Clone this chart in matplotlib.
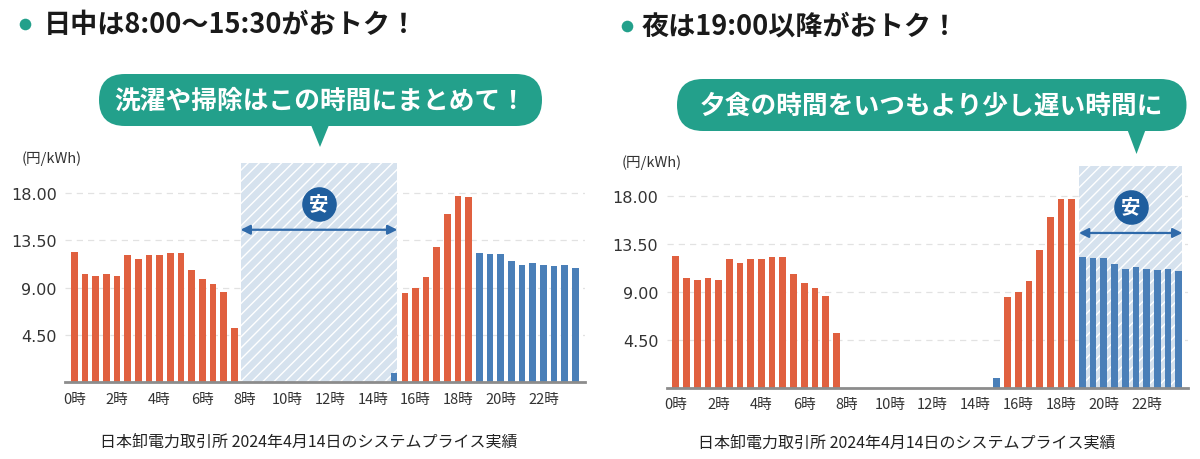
import numpy as np
import matplotlib
matplotlib.use("Agg")
import matplotlib.pyplot as plt
from matplotlib.patches import Rectangle, FancyBboxPatch, Polygon

plt.rcParams['font.family'] = ['Noto Sans CJK JP', 'DejaVu Sans']
plt.rcParams['hatch.color'] = 'white'
plt.rcParams['hatch.linewidth'] = 1.0

# JEPX system price, 2024-04-14, 30-min slots (0 = 0:00, 47 = 23:30)
prices = [12.35, 10.30, 10.13, 10.26, 10.13, 12.07, 11.72, 12.07,
          12.10, 12.26, 12.26, 10.70, 9.79, 9.31, 8.58, 5.13,
          0.01, 0.01, 0.01, 0.01, 0.01, 0.01, 0.01, 0.01,
          0.01, 0.01, 0.01, 0.01, 0.01, 0.01, 0.90, 8.46,
          8.93, 10.00, 12.90, 15.96, 17.73, 17.64, 12.29, 12.19,
          12.19, 11.56, 11.12, 11.34, 11.12, 11.02, 11.12, 10.89]
cheap_slots = [30] + list(range(38, 48))
yticks = [4.5, 9.0, 13.5, 18.0]
xtick_slots = list(range(0, 48, 4))
xtick_labels = [f"{h}時" for h in range(0, 24, 2)]

titles = ["日中は8:00～15:30がおトク！", "夜は19:00以降がおトク！"]
bubbles = ["洗濯や掃除はこの時間にまとめて！", "夕食の時間をいつもより少し遅い時間に"]
unit = "(円/kWh)"
source = "日本卸電力取引所 2024年4月14日のシステムプライス実績"
# cheap window (slot units) highlighted in each panel
windows = [(15.6, 30.3), (37.68, 47.34)]

RED = "#E0603F"
BLUE = "#4A7FB8"
TEAL = "#23A08B"
NAVY = "#1F5E9E"
SHADE = "#D6E2EE"

W, H = 1200, 460
fig = plt.figure(figsize=(12, 4.6), dpi=100)
fig.patch.set_facecolor("white")

# panel geometry in pixels
panels = [
    dict(px0=65, px1=585, top=150, base=383.4, xlim=(-0.87, 47.9), ymax=22.17),
    dict(px0=666.7, px1=1188, top=150, base=388.7, xlim=(-0.85, 47.87), ymax=22.37),
]

slots = np.arange(len(prices))
colors = [BLUE if i in cheap_slots else RED for i in slots]

for k, p in enumerate(panels):
    ax = fig.add_axes([p['px0'] / W, (H - p['base']) / H,
                       (p['px1'] - p['px0']) / W, (p['base'] - p['top']) / H])
    ax.set_xlim(*p['xlim'])
    ax.set_ylim(0, p['ymax'])
    for s in ['top', 'right', 'left']:
        ax.spines[s].set_visible(False)
    ax.spines['bottom'].set_color('#8c8c8c')
    ax.spines['bottom'].set_linewidth(2)
    ax.spines['bottom'].set_zorder(5)

    for yv in yticks:
        ax.axhline(yv, color='#e2e2e2', lw=0.9, ls=(0, (5, 4)), zorder=0.5)

    x0, x1 = windows[k]
    ax.add_patch(Rectangle((x0, 0), x1 - x0, 20.8, facecolor=SHADE,
                           edgecolor='white', hatch='///', lw=0, zorder=1))
    ax.bar(slots, prices, width=0.62, color=colors, zorder=2)

    ax.annotate('', xy=(x0, 14.5), xytext=(x1, 14.5),
                arrowprops=dict(arrowstyle='<|-|>', color='#2f6aaa', lw=1.6,
                                mutation_scale=14, shrinkA=0, shrinkB=0),
                zorder=3)
    cx = (x0 + x1) / 2
    ax.scatter([cx], [16.95], s=620, color=NAVY, zorder=4, linewidths=0)
    ax.text(cx, 16.95, "安", color='white', fontsize=14, fontweight='bold',
            ha='center', va='center', zorder=5)

    ax.set_yticks(yticks)
    ax.set_yticklabels([f"{v:.2f}" for v in yticks], fontsize=11.5,
                       color='#333333', family=['DejaVu Sans'])
    ax.set_xticks(xtick_slots)
    ax.set_xticklabels(xtick_labels, fontsize=10.5, color='#333333')
    ax.tick_params(axis='both', length=0)
    ax.tick_params(axis='y', pad=6)
    ax.tick_params(axis='x', pad=7)

# overlay for titles, bubbles and notes in pixel coordinates
ov = fig.add_axes([0, 0, 1, 1])
ov.set_xlim(0, W)
ov.set_ylim(H, 0)
ov.axis('off')

title_pos = [(25, 25, 44), (627, 27, 642)]
for (dx, dy, tx), t in zip(title_pos, titles):
    ov.scatter([dx], [dy], s=70, color=TEAL, linewidths=0)
    ov.text(tx, dy, t, fontsize=19.5, fontweight='bold', color='#1a1a1a',
            ha='left', va='center')

bubble_geo = [(99, 542, 75, 127, 320, 148), (677, 1186.5, 80, 132, 1136.5, 155)]
for (bx0, bx1, by0, by1, tipx, tipy), t in zip(bubble_geo, bubbles):
    h = by1 - by0
    ov.add_patch(FancyBboxPatch((bx0, by0), bx1 - bx0, h,
                                boxstyle=f"round,pad=0,rounding_size={h / 2}",
                                facecolor=TEAL, edgecolor='none'))
    ov.add_patch(Polygon([(tipx - 9, by1 - 1), (tipx + 9, by1 - 1), (tipx, tipy)],
                         closed=True, facecolor=TEAL, edgecolor='none'))
    ov.text((bx0 + bx1) / 2, (by0 + by1) / 2, t, fontsize=18.5, fontweight='bold',
            color='white', ha='center', va='center')

ov.text(22, 159, unit, fontsize=10.5, color='#333333', ha='left', va='center')
ov.text(622, 163, unit, fontsize=10.5, color='#333333', ha='left', va='center')

ov.text(308.6, 442, source, fontsize=11.5, color='#222222', ha='center', va='center')
ov.text(907, 443, source, fontsize=11.5, color='#222222', ha='center', va='center')

fig.savefig("out.png", dpi=100, facecolor='white')
